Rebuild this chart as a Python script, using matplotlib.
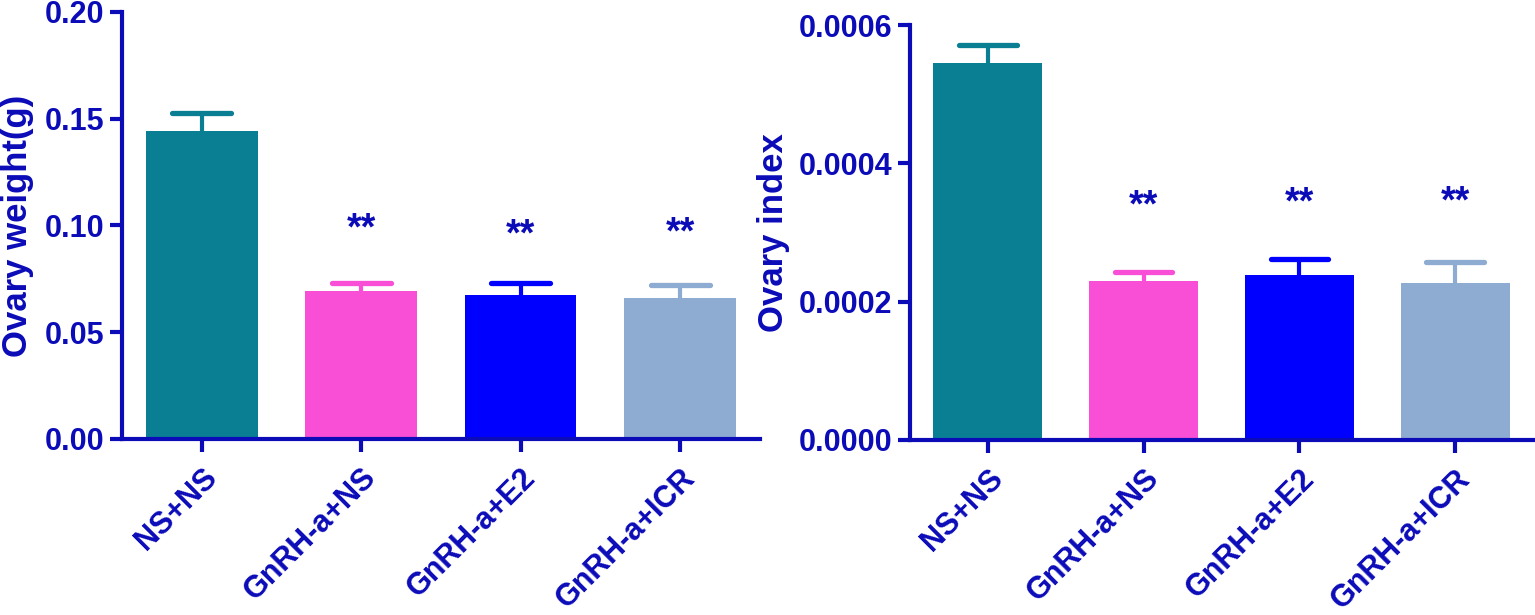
import numpy as np
from matplotlib import pyplot as plt

groups = ['NS+NS', 'GnRH-a+NS', 'GnRH-a+E2', 'GnRH-a+ICR']
colors = ['#0a7f94', '#f94fd6', '#0000ff', '#8eabd2']

weight_mean = [0.1443, 0.0693, 0.0674, 0.0659]
weight_err = [0.0084, 0.0036, 0.0058, 0.0064]
weight_stars = ['', '**', '**', '**']
weight_star_y = [0, 0.0935, 0.0906, 0.0915]

index_mean = [0.000545, 0.000230, 0.000239, 0.000227]
index_err = [0.000026, 0.000013, 0.000022, 0.000031]
index_stars = ['', '**', '**', '**']
index_star_y = [0, 0.0003231, 0.0003269, 0.0003294]

ink = '#0b0bb8'
plt.rcParams['font.family'] = ['Liberation Sans', 'DejaVu Sans']
plt.rcParams['font.weight'] = 'bold'

fig = plt.figure(figsize=(15.35, 6.15), dpi=100)
ax1 = fig.add_axes([0.0795, 0.2862, 0.4155, 0.6943])
ax2 = fig.add_axes([0.5928, 0.2846, 0.4059, 0.6747])


def draw(ax, means, errs, stars, star_y, ylim, ticks, fmt, ylabel):
    x = np.arange(len(groups))
    for i in range(len(groups)):
        top = means[i] + errs[i]
        ax.vlines(x[i], means[i], top, color=colors[i], linewidth=3, zorder=1)
        ax.hlines(top, x[i] - 0.185, x[i] + 0.185, color=colors[i],
                  linewidth=3.8, capstyle='round', zorder=1)
        ax.bar(x[i], means[i], width=0.7, color=colors[i], zorder=2)
        if stars[i]:
            ax.text(x[i], star_y[i], stars[i], ha='center', va='baseline',
                    fontsize=27, fontweight='bold', color=ink)
    ax.set_xlim(-0.5, 3.5)
    ax.set_ylim(*ylim)
    ax.set_yticks(ticks)
    ax.set_yticklabels([fmt % t for t in ticks])
    ax.set_xticks(x)
    ax.set_xticklabels(groups, rotation=45, ha='right', va='top',
                       rotation_mode='anchor')
    for side in ['top', 'right']:
        ax.spines[side].set_visible(False)
    for side in ['left', 'bottom']:
        ax.spines[side].set_linewidth(3)
        ax.spines[side].set_color(ink)
    ax.tick_params(axis='both', colors=ink, width=3, length=9,
                   labelsize=22, direction='out')
    ax.tick_params(axis='x', pad=8)
    for lab in ax.get_xticklabels() + ax.get_yticklabels():
        lab.set_fontweight('bold')
        lab.set_color(ink)
    ax.set_ylabel(ylabel, fontsize=25, fontweight='bold', color=ink)


draw(ax1, weight_mean, weight_err, weight_stars, weight_star_y,
     (0, 0.20), [0.00, 0.05, 0.10, 0.15, 0.20], '%.2f', 'Ovary weight(g)')
draw(ax2, index_mean, index_err, index_stars, index_star_y,
     (0, 0.0006), [0.0, 0.0002, 0.0004, 0.0006], '%.4f', 'Ovary index')
ax1.yaxis.set_label_coords(-0.138, 0.5)
ax2.yaxis.set_label_coords(-0.193, 0.5)

fig.savefig('out.png', dpi=100)
